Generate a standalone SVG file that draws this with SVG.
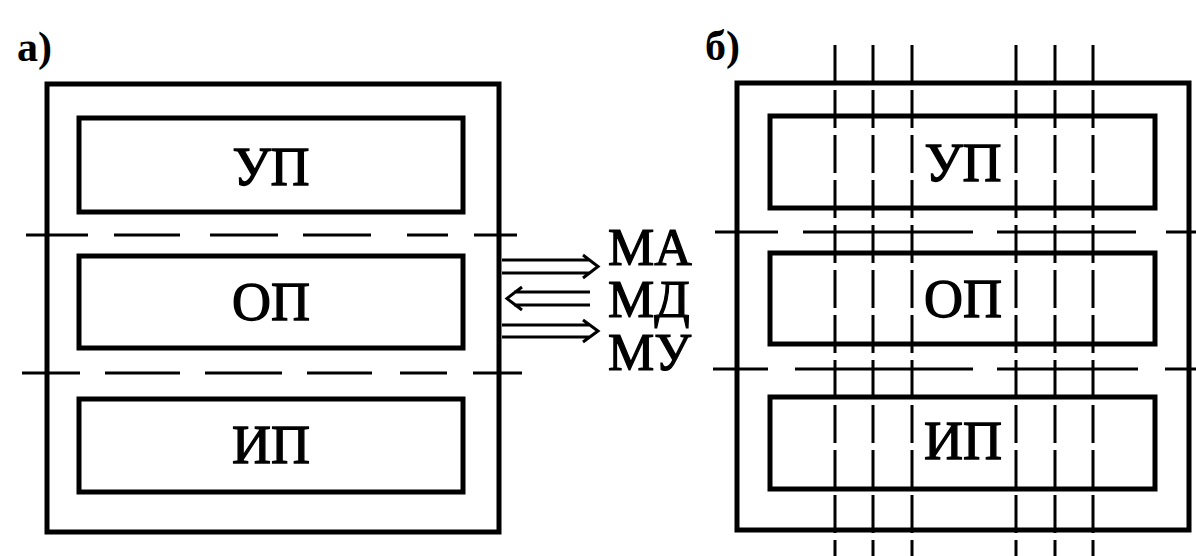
<svg xmlns="http://www.w3.org/2000/svg" width="1196" height="556" viewBox="0 0 1196 556">
<style>
.box{fill:none;stroke:#000;stroke-width:5}
.dash{fill:none;stroke:#000;stroke-width:3}
.vd{fill:none;stroke:#000;stroke-width:3;stroke-dasharray:38 7}
.arr{fill:none;stroke:#000;stroke-width:3;stroke-linejoin:miter}
.lbl{font-family:"Liberation Serif","Times New Roman",serif;font-size:54px;fill:#000;stroke:#000;stroke-width:1.3;text-anchor:middle}
.sig{font-family:"Liberation Serif","Times New Roman",serif;font-size:52px;fill:#000;stroke:#000;stroke-width:1.2}
.tag{font-family:"Liberation Serif","Times New Roman",serif;font-size:42px;font-weight:bold;fill:#000}
</style>
<rect width="1196" height="556" fill="#fff"/>
<g id="label-a"><text class="tag" x="17" y="61">а)</text></g>
<g id="label-b"><text class="tag" x="705" y="60">б)</text></g>
<g id="panel-a">
<rect class="box" x="47" y="84" width="452" height="448"/>
<g id="a-up"><rect class="box" x="79" y="118" width="384" height="94"/><text class="lbl" x="271" y="185">УП</text></g>
<g id="a-op"><rect class="box" x="79" y="256" width="384" height="92"/><text class="lbl" x="271" y="320">ОП</text></g>
<g id="a-ip"><rect class="box" x="79" y="399" width="384" height="93"/><text class="lbl" x="271" y="463">ИП</text></g>
<path class="dash" d="M26 235H88M114 235H180M210 235H278M303 235H371M407 235H448M474 235H517"/>
<path class="dash" d="M22 373H80M105 373H180M205 373H282M307 373H372M400 373H447M473 373H522"/>
</g>
<g id="connectors">
<path class="arr" d="M502 260H590M502 273H590M583 255L598 266.5L583 278"/>
<path class="arr" d="M514 292H590M514 305H590M522 287L507 298.5L522 310"/>
<path class="arr" d="M502 325H590M502 337H590M583 320L598 331L583 342"/>
</g>
<g id="signals">
<text class="sig" x="608" y="265">МА</text>
<text class="sig" x="608" y="317">МД</text>
<text class="sig" x="608" y="370">МУ</text>
</g>
<g id="panel-b">
<rect class="box" x="737" y="83" width="452" height="447"/>
<g id="b-up"><rect class="box" x="770" y="116" width="385" height="92"/><text class="lbl" x="963" y="181">УП</text></g>
<g id="b-op"><rect class="box" x="770" y="253" width="385" height="91"/><text class="lbl" x="963" y="317">ОП</text></g>
<g id="b-ip"><rect class="box" x="770" y="397" width="385" height="92"/><text class="lbl" x="963" y="459">ИП</text></g>
<path class="dash" d="M715 232H778M803 232H973M997 232H1136M1166 232H1196"/>
<path class="dash" d="M713 369H768M795 369H973M997 369H1138M1165 369H1196"/>
<path class="vd" d="M835 45V556M873 45V556M912 45V556M1016 45V556M1055 45V556M1093 45V556"/>
</g>
</svg>
